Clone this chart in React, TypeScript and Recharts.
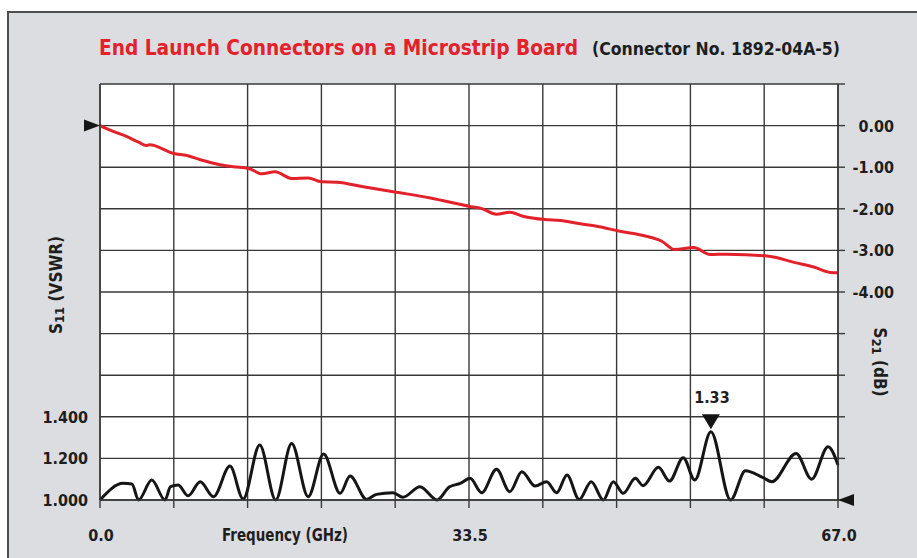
import { LineChart, Line, XAxis, YAxis, CartesianGrid, ReferenceDot, Label } from "recharts";

// frequency axis (GHz)
const freqTicks = [0, 6.7, 13.4, 20.1, 26.8, 33.5, 40.2, 46.9, 53.6, 60.3, 67];
const freqLabels: Record<string, string> = { "0": "0.0", "33.5": "33.5", "67": "67.0" };

// S11 (VSWR) axis, left
const vswrTicks = [1.0, 1.2, 1.4, 1.6, 1.8, 2.0, 2.2, 2.4, 2.6, 2.8, 3.0];
const vswrLabels = [1.0, 1.2, 1.4];

// S21 (dB) axis, right
const dbTicks = [1, 0, -1, -2, -3, -4, -5, -6, -7, -8, -9];
const dbLabels = [0, -1, -2, -3, -4];

// S21 insertion loss, red
const s21Freq = [0, 1.2, 2.4, 3.5, 4.2, 4.5, 6.7, 7.9, 9.1, 10.9, 12.1, 13.5, 14.7, 15.9, 17.4, 18.9, 20.1, 21.5, 23.9, 26.9, 30.0, 33.7, 34.6, 36.0, 37.2, 38.4, 40.4, 41.8, 43.6, 45.1, 47.2, 49.6, 51.0, 52.2, 53.9, 55.4, 56.9, 60.7, 63.2, 64.8, 66.3, 67.0];
const s21Db = [0, -0.14, -0.26, -0.4, -0.48, -0.46, -0.67, -0.72, -0.82, -0.94, -0.99, -1.03, -1.16, -1.11, -1.27, -1.26, -1.35, -1.36, -1.47, -1.6, -1.74, -1.95, -1.99, -2.13, -2.08, -2.18, -2.26, -2.28, -2.36, -2.42, -2.54, -2.66, -2.78, -2.98, -2.93, -3.1, -3.09, -3.14, -3.3, -3.4, -3.53, -3.54];

// S11 VSWR, black
const s11Freq = [0, 2.1, 2.9, 3.5, 4.7, 5.9, 6.4, 7.1, 8.0, 9.1, 10.3, 11.8, 13.0, 14.5, 15.95, 17.4, 18.9, 20.3, 21.8, 22.7, 24.2, 25.1, 26.6, 27.5, 29.05, 30.6, 31.7, 32.7, 33.6, 34.65, 36.0, 37.2, 38.3, 39.5, 40.55, 41.46, 42.4, 43.5, 44.6, 45.7, 46.6, 47.5, 48.6, 49.3, 50.7, 51.7, 52.95, 54.0, 55.46, 57.25, 58.6, 60.2, 61.0, 63.2, 64.6, 66.1, 67.0];
const s11Vswr = [1.0, 1.08, 1.077, 1.0, 1.096, 1.0, 1.064, 1.072, 1.02, 1.088, 1.016, 1.163, 1.005, 1.264, 1.0, 1.272, 1.016, 1.221, 1.032, 1.115, 1.003, 1.027, 1.035, 1.013, 1.064, 1.0, 1.062, 1.08, 1.104, 1.035, 1.148, 1.04, 1.136, 1.067, 1.088, 1.035, 1.12, 1.003, 1.088, 1.0, 1.088, 1.032, 1.104, 1.069, 1.157, 1.091, 1.203, 1.096, 1.328, 1.0, 1.141, 1.107, 1.088, 1.224, 1.1, 1.256, 1.168];

const peakFreq = 55.46;
const peakVswr = 1.33;
const peakText = "1.33";

const s21Data = s21Freq.map((f, i) => ({ f, db: s21Db[i] }));
const s11Data = s11Freq.map((f, i) => ({ f, vswr: s11Vswr[i] }));

const FONT = "'Liberation Sans Narrow', 'Arial Narrow', 'DejaVu Sans Condensed', 'Liberation Sans', sans-serif";
const INK = "#1e1e1e";

const LeftTick = (p: any) => {
  if (!vswrLabels.some((v) => Math.abs(v - p.payload.value) < 1e-6)) return null;
  return (
    <text x={p.x} y={p.y + 6} textAnchor="end" fontFamily={FONT} fontWeight="bold" fontSize={16} fill={INK}>
      {p.payload.value.toFixed(3)}
    </text>
  );
};

const RightTick = (p: any) => {
  if (!dbLabels.includes(p.payload.value)) return null;
  return (
    <text x={p.x + 49} y={p.y + 6} textAnchor="end" fontFamily={FONT} fontWeight="bold" fontSize={16} fill={INK}>
      {p.payload.value.toFixed(2)}
    </text>
  );
};

const BottomTick = (p: any) => {
  const lbl = freqLabels[String(p.payload.value)];
  if (!lbl) return null;
  return (
    <text x={p.x + 1} y={p.y + 33} textAnchor="middle" fontFamily={FONT} fontWeight="bold" fontSize={16} fill={INK}>
      {lbl}
    </text>
  );
};

const App = () => {
  return (
    <div style={{ position: "absolute", left: 0, top: 0, width: 917, height: 558, overflow: "hidden", background: "#fff" }}>
      {/* grå ram */}
      <div style={{ position: "absolute", left: 7, top: 11, width: 960, height: 600, background: "#dcdde0", border: "2px solid #4d4d4d" }} />

      <svg width={917} height={70} style={{ position: "absolute", left: 0, top: 0 }}>
        <text x={99} y={55} fontFamily={FONT} fontWeight="bold" fontSize={22} fill="#e3212a" textLength={479} lengthAdjust="spacingAndGlyphs">
          End Launch Connectors on a Microstrip Board
        </text>
        <text x={592} y={55} fontFamily={FONT} fontWeight="bold" fontSize={17} fill={INK} textLength={248} lengthAdjust="spacingAndGlyphs">
          (Connector No. 1892-04A-5)
        </text>
      </svg>

      <div style={{ position: "absolute", left: 0, top: 0 }}>
        <LineChart width={917} height={558} margin={{ top: 84, right: 9, bottom: 18, left: 40 }}>
          <CartesianGrid yAxisId="left" stroke="#383838" strokeWidth={1.4} fill="#fff" fillOpacity={1} />
          <XAxis
            type="number"
            dataKey="f"
            domain={[0, 67]}
            ticks={freqTicks}
            interval={0}
            height={40}
            tickSize={8}
            tickMargin={0}
            stroke="#383838"
            strokeWidth={1.4}
            tick={<BottomTick />}
          >
            <Label
              content={(props: any) => {
                const vb = props.viewBox;
                return (
                  <text x={vb.x + 185} y={vb.y + 41} textAnchor="middle" fontFamily={FONT} fontWeight="bold" fontSize={17} fill={INK} textLength={126} lengthAdjust="spacingAndGlyphs">
                    Frequency (GHz)
                  </text>
                );
              }}
            />
          </XAxis>
          <YAxis
            yAxisId="left"
            type="number"
            domain={[1, 3]}
            ticks={vswrTicks}
            interval={0}
            width={60}
            tickLine={false}
            tickSize={12}
            tickMargin={0}
            stroke="#383838"
            strokeWidth={1.4}
            tick={<LeftTick />}
          >
            <Label
              content={(props: any) => {
                const vb = props.viewBox;
                const cx = vb.x + 16;
                const cy = 285;
                return (
                  <text x={cx} y={cy} transform={`rotate(-90, ${cx}, ${cy})`} textAnchor="middle" dominantBaseline="central" fontFamily={FONT} fontWeight="bold" fontSize={17} fill={INK}>
                    S<tspan fontSize={13} dy={3}>11</tspan>
                    <tspan dy={-3}> (VSWR)</tspan>
                  </text>
                );
              }}
            />
          </YAxis>
          <YAxis
            yAxisId="right"
            orientation="right"
            type="number"
            domain={[-9, 1]}
            ticks={dbTicks}
            interval={0}
            width={70}
            tickSize={7}
            tickMargin={0}
            stroke="#383838"
            strokeWidth={1.4}
            tick={<RightTick />}
          >
            <Label
              content={() => {
                const cx = 880;
                const cy = 362;
                return (
                  <text x={cx} y={cy} transform={`rotate(90, ${cx}, ${cy})`} textAnchor="middle" dominantBaseline="central" fontFamily={FONT} fontWeight="bold" fontSize={17} fill={INK}>
                    S<tspan fontSize={13} dy={3}>21</tspan>
                    <tspan dy={-3}> (dB)</tspan>
                  </text>
                );
              }}
            />
          </YAxis>

          <Line data={s21Data} dataKey="db" yAxisId="right" type="monotone" stroke="#e3212a" strokeWidth={3} dot={false} isAnimationActive={false} />
          <Line data={s11Data} dataKey="vswr" yAxisId="left" type="monotone" stroke="#151515" strokeWidth={3} dot={false} isAnimationActive={false} />

          {/* pilar */}
          <ReferenceDot
            x={0}
            y={0}
            yAxisId="right"
            ifOverflow="visible"
            shape={(p: any) => <path d={`M${p.cx} ${p.cy} L${p.cx - 16} ${p.cy - 6} L${p.cx - 16} ${p.cy + 6} Z`} fill="#151515" />}
          />
          <ReferenceDot
            x={67}
            y={1}
            yAxisId="left"
            ifOverflow="visible"
            shape={(p: any) => <path d={`M${p.cx} ${p.cy} L${p.cx + 16} ${p.cy - 6} L${p.cx + 16} ${p.cy + 6} Z`} fill="#151515" />}
          />
          <ReferenceDot
            x={peakFreq}
            y={peakVswr}
            yAxisId="left"
            ifOverflow="visible"
            shape={(p: any) => (
              <g>
                <path d={`M${p.cx} ${p.cy - 2} L${p.cx - 9} ${p.cy - 17} L${p.cx + 9} ${p.cy - 17} Z`} fill="#151515" />
                <text x={p.cx + 1} y={p.cy - 28} textAnchor="middle" fontFamily={FONT} fontWeight="bold" fontSize={16} fill={INK}>
                  {peakText}
                </text>
              </g>
            )}
          />
        </LineChart>
      </div>
    </div>
  );
};

export default App;
